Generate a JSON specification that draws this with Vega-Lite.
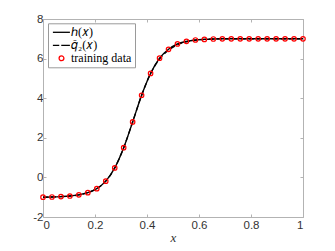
{
  "$schema": "https://vega.github.io/schema/vega-lite/v6.json",
  "width": 260,
  "height": 198,
  "autosize": "none",
  "padding": {"left": 43, "top": 19, "right": 32, "bottom": 34},
  "background": "white",
  "datasets": {
    "pts": [
      {"x": 0.0, "h": -1.0, "q": -1.0},
      {"x": 0.0345, "h": -0.99, "q": -0.99},
      {"x": 0.069, "h": -0.97, "q": -0.97},
      {"x": 0.1034, "h": -0.94, "q": -0.94},
      {"x": 0.1379, "h": -0.88, "q": -0.88},
      {"x": 0.1724, "h": -0.77, "q": -0.77},
      {"x": 0.2069, "h": -0.57, "q": -0.57},
      {"x": 0.2414, "h": -0.19, "q": -0.19},
      {"x": 0.2759, "h": 0.48, "q": 0.48},
      {"x": 0.3103, "h": 1.5, "q": 1.5},
      {"x": 0.3448, "h": 2.8, "q": 2.8},
      {"x": 0.3793, "h": 4.15, "q": 4.15},
      {"x": 0.4138, "h": 5.25, "q": 5.25},
      {"x": 0.4483, "h": 6.02, "q": 5.98},
      {"x": 0.4828, "h": 6.47, "q": 6.42},
      {"x": 0.5172, "h": 6.74, "q": 6.7},
      {"x": 0.5517, "h": 6.87, "q": 6.85},
      {"x": 0.5862, "h": 6.94, "q": 6.93},
      {"x": 0.6207, "h": 6.97, "q": 6.97},
      {"x": 0.6552, "h": 6.99, "q": 6.99},
      {"x": 0.6897, "h": 7.0, "q": 7.0},
      {"x": 0.7241, "h": 7.0, "q": 7.0},
      {"x": 0.7586, "h": 7.0, "q": 7.0},
      {"x": 0.7931, "h": 7.0, "q": 7.0},
      {"x": 0.8276, "h": 7.0, "q": 7.0},
      {"x": 0.8621, "h": 7.0, "q": 7.0},
      {"x": 0.8966, "h": 7.0, "q": 7.0},
      {"x": 0.931, "h": 7.0, "q": 7.0},
      {"x": 0.9655, "h": 7.0, "q": 7.0},
      {"x": 1.0, "h": 7.0, "q": 7.0}
    ]
  },
  "config": {
    "view": {"stroke": null},
    "axis": {
      "grid": false,
      "domainColor": "#b3b3b3",
      "domainWidth": 1,
      "tickColor": "#b3b3b3",
      "tickSize": -3,
      "labelFont": "Liberation Sans",
      "labelFontSize": 11.5,
      "labelColor": "#333333",
      "titleFont": "Liberation Serif",
      "titleFontStyle": "italic",
      "titleFontWeight": "normal",
      "titleFontSize": 13,
      "titleColor": "#333333"
    },
    "legend": {
      "padding": 3,
      "strokeColor": "#9a9a9a",
      "fillColor": "white",
      "labelFont": "Liberation Serif",
      "labelFontSize": 12,
      "labelColor": "black",
      "symbolSize": 25,
      "symbolStrokeWidth": 1.3,
      "symbolOpacity": 1,
      "labelOffset": 8,
      "rowPadding": 1
    }
  },
  "layer": [
    {
      "data": {"name": "pts"},
      "mark": {"type": "line", "color": "black", "strokeWidth": 1.4, "interpolate": "monotone"},
      "encoding": {
        "x": {"field": "x", "type": "quantitative", "scale": {"domain": [0, 1], "nice": false},
              "axis": {"orient": "bottom", "values": [0, 0.2, 0.4, 0.6, 0.8, 1], "format": "~g", "labelPadding": 5, "title": "x", "titlePadding": 1}},
        "y": {"field": "h", "type": "quantitative", "scale": {"domain": [-2, 8], "nice": false},
              "axis": {"orient": "left", "values": [-2, 0, 2, 4, 6, 8], "labelExpr": "'' + datum.value", "labelPadding": 3, "title": null}}
      }
    },
    {
      "data": {"name": "pts"},
      "mark": {"type": "line", "color": "black", "strokeWidth": 1.4, "strokeDash": [5, 3], "interpolate": "monotone"},
      "encoding": {
        "x": {"field": "x", "type": "quantitative", "scale": {"domain": [0, 1], "nice": false},
              "axis": {"orient": "top", "values": [0, 0.2, 0.4, 0.6, 0.8, 1], "labels": false, "title": null}},
        "y": {"field": "q", "type": "quantitative", "scale": {"domain": [-2, 8], "nice": false},
              "axis": {"orient": "right", "values": [-2, 0, 2, 4, 6, 8], "labels": false, "title": null}}
      }
    },
    {
      "data": {"name": "pts"},
      "mark": {"type": "point", "filled": false, "strokeWidth": 1.2, "size": 20, "opacity": 1, "color": "#ff0000"},
      "encoding": {
        "x": {"field": "x", "type": "quantitative", "axis": null},
        "y": {"field": "h", "type": "quantitative", "axis": null}
      }
    },
    {
      "data": {"name": "pts"},
      "transform": [{"filter": "false"}],
      "mark": {"type": "point", "filled": false, "strokeWidth": 1.3, "opacity": 1},
      "encoding": {
        "x": {"field": "x", "type": "quantitative", "axis": null},
        "y": {"field": "h", "type": "quantitative", "axis": null},
        "color": {
          "datum": "training data", "type": "nominal",
          "scale": {"domain": ["ℎ(𝑥)", "𝑞̂₂(𝑥)", "training data"], "range": ["black", "black", "#ff0000"]},
          "legend": {"title": null, "orient": "none", "legendX": 5, "legendY": 4.3}
        },
        "shape": {
          "datum": "training data", "type": "nominal",
          "scale": {"domain": ["ℎ(𝑥)", "𝑞̂₂(𝑥)", "training data"], "range": ["M-1.64,0H5.16", "M-1.64,0H0.9M1.7,0H5.16", "M0.84,0A0.96,0.96 0 1,0 2.76,0A0.96,0.96 0 1,0 0.84,0Z"]},
          "legend": {"title": null, "orient": "none", "legendX": 5, "legendY": 4.3}
        }
      }
    }
  ],
  "resolve": {"axis": {"x": "independent", "y": "independent"}}
}
